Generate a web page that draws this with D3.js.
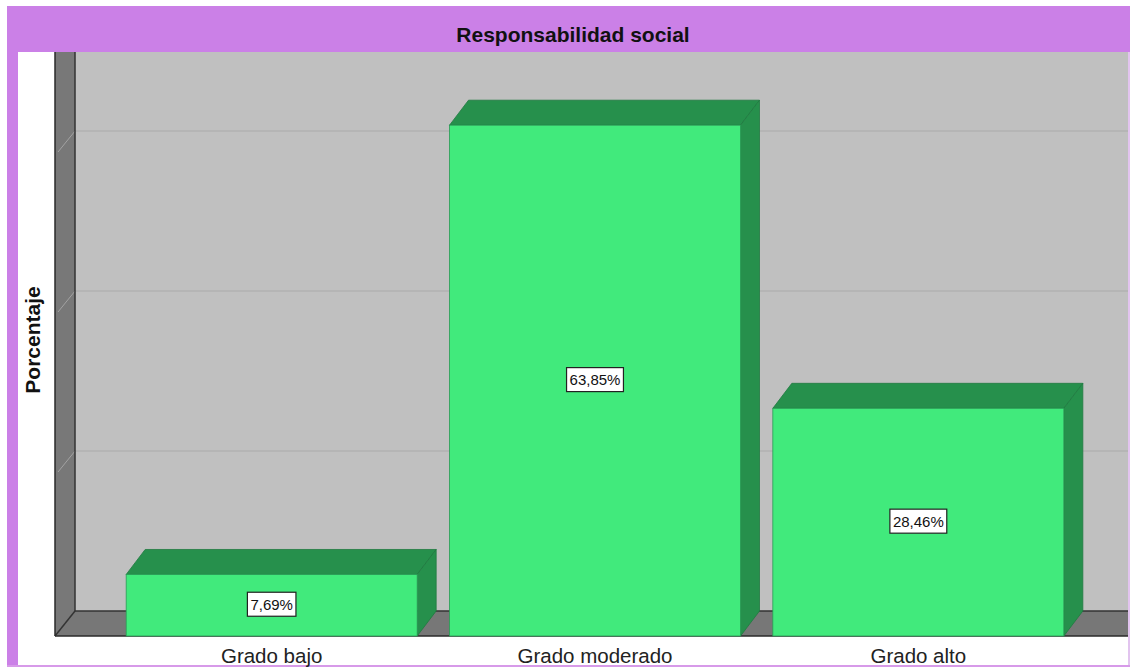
<!DOCTYPE html>
<html><head><meta charset="utf-8">
<script src="https://cdn.jsdelivr.net/npm/d3@7"></script>
<style>body{margin:0;background:#fff}svg{display:block}text{font-family:"Liberation Sans",Arial,sans-serif}</style>
</head><body>
<svg id="c" width="1130" height="667"></svg>
<script>
const categories = ["Grado bajo", "Grado moderado", "Grado alto"];
const values = [7.69, 63.85, 28.46];
const valueLabels = ["7,69%", "63,85%", "28,46%"];
const yTicks = [0, 20, 40, 60];
const title = "Responsabilidad social";
const yTitle = "Porcentaje";

const svg = d3.select("#c");
const W = 1130, H = 667;
// frame
svg.append("rect").attr("x",7).attr("y",6).attr("width",W-7).attr("height",H-6).attr("fill","#cb80e7");
svg.append("rect").attr("x",18).attr("y",52).attr("width",1110).attr("height",613).attr("fill","#ffffff");
svg.append("rect").attr("x",1128).attr("y",52).attr("width",2).attr("height",615).attr("fill","#e2c4ef");
svg.append("rect").attr("x",7).attr("y",665).attr("width",W-7).attr("height",2).attr("fill","#d79ae9");

const wallDX = 20, wallDY = 25, barDX = 19, barDY = 25;
const backLeft = 75, plotRight = 1128, plotTop = 52;
const y = d3.scaleLinear().domain([0,70]).range([611,51]);
const x = d3.scaleBand().domain(categories).range([110,1080]).paddingInner(0.1).paddingOuter(0.05);

// back wall
svg.append("rect").attr("x",backLeft).attr("y",plotTop).attr("width",plotRight-backLeft).attr("height",y(0)-plotTop).attr("fill","#c0c0c0");
// side wall
svg.append("path").attr("d",`M${backLeft-wallDX},${plotTop}L${backLeft},${plotTop}L${backLeft},${y(0)}L${backLeft-wallDX},${y(0)+wallDY}Z`).attr("fill","#787878");
// gridlines
yTicks.filter(t=>t>0).forEach(t=>{
  svg.append("line").attr("x1",backLeft).attr("x2",plotRight).attr("y1",y(t)).attr("y2",y(t)).attr("stroke","#b2b2b2").attr("stroke-width",1.5);
  svg.append("line").attr("x1",backLeft).attr("y1",y(t)).attr("x2",backLeft-wallDX+3).attr("y2",y(t)+wallDY-4).attr("stroke","#a2a2a2").attr("stroke-width",1);
});
// floor
svg.append("path").attr("d",`M${backLeft-wallDX},${y(0)+wallDY}L${backLeft},${y(0)}L${plotRight},${y(0)}L${plotRight},${y(0)+wallDY}Z`).attr("fill","#777777");
svg.append("line").attr("x1",backLeft).attr("x2",plotRight).attr("y1",y(0)).attr("y2",y(0)).attr("stroke","#333").attr("stroke-width",1.5);
svg.append("line").attr("x1",backLeft-wallDX).attr("x2",plotRight).attr("y1",y(0)+wallDY).attr("y2",y(0)+wallDY).attr("stroke","#2a2a2a").attr("stroke-width",1.5);
svg.append("line").attr("x1",backLeft-wallDX).attr("x2",backLeft).attr("y1",y(0)+wallDY).attr("y2",y(0)).attr("stroke","#333").attr("stroke-width",1.5);
svg.append("line").attr("x1",backLeft-wallDX).attr("x2",backLeft-wallDX).attr("y1",plotTop).attr("y2",y(0)+wallDY).attr("stroke","#2a2a2a").attr("stroke-width",1.5);
svg.append("line").attr("x1",backLeft).attr("x2",backLeft).attr("y1",plotTop).attr("y2",y(0)).attr("stroke","#333").attr("stroke-width",1.5);

// bars
const g = svg.append("g");
categories.forEach((c,i)=>{
  const x0 = x(c), x1 = x0 + x.bandwidth();
  const ft = y(values[i]) + barDY, fb = y(0) + barDY;
  const bt = y(values[i]);
  g.append("path").attr("d",`M${x0},${ft}L${x0+barDX},${bt}L${x1+barDX},${bt}L${x1},${ft}Z`)
    .attr("fill","#26904c").attr("stroke","#1f7a40").attr("stroke-width",0.8);
  g.append("path").attr("d",`M${x1},${ft}L${x1+barDX},${bt}L${x1+barDX},${y(0)}L${x1},${fb}Z`)
    .attr("fill","#26904c").attr("stroke","#1f7a40").attr("stroke-width",0.8);
  g.append("rect").attr("x",x0).attr("y",ft).attr("width",x.bandwidth()).attr("height",fb-ft)
    .attr("fill","#41ea7c").attr("stroke","#2a9a55").attr("stroke-width",0.8);
  // label
  const cx = (x0+x1)/2, cy = (ft+fb)/2 - 1;
  const lg = g.append("g");
  const t = lg.append("text").attr("x",cx).attr("y",cy).attr("text-anchor","middle").attr("dominant-baseline","central")
    .attr("font-size",15).attr("fill","#111").text(valueLabels[i]);
  const bb = t.node().getBBox();
  lg.insert("rect","text").attr("x",bb.x-3).attr("y",cy-12).attr("width",bb.width+6).attr("height",24)
    .attr("fill","#fff").attr("stroke","#222").attr("stroke-width",1.2);
  // category
  svg.append("text").attr("x",cx).attr("y",663).attr("text-anchor","middle").attr("font-size",20.5).attr("fill","#222").text(c);
});

// titles
svg.append("text").attr("x",573).attr("y",42).attr("text-anchor","middle").attr("font-size",21).attr("font-weight","bold").attr("fill","#111").text(title);
svg.append("text").attr("transform","translate(40,340) rotate(-90)").attr("text-anchor","middle").attr("font-size",21).attr("font-weight","bold").attr("fill","#111").text(yTitle);
</script>
</body></html>
